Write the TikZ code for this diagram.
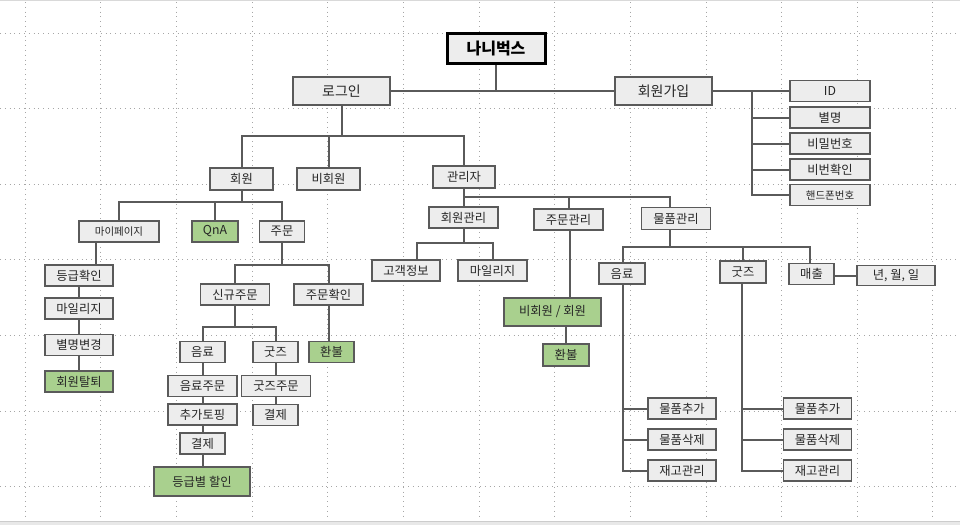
\documentclass[tikz,border=0pt]{standalone}
\usepackage{fontspec}
\usetikzlibrary{backgrounds}
\setmainfont{Noto Sans CJK KR}
\definecolor{boxfill}{HTML}{EDEDED}
\definecolor{boxline}{HTML}{5A5A5A}
\definecolor{greenfill}{HTML}{A9D08E}
\definecolor{gridc}{HTML}{A6A6A6}
\tikzset{
  gbox/.style={draw=boxline, line width=1.5pt, fill=boxfill, inner sep=0pt, font=\fontsize{12.3}{14}\selectfont, text=black!85},
  grbox/.style={gbox, fill=greenfill},
  wire/.style={draw=boxline, line width=2pt},
  gridline/.style={draw=gridc, line width=0.7pt, dash pattern=on 0.8pt off 4pt},
}
\newcommand{\bx}[5]{\node[#1, minimum width=#4pt, minimum height=#5pt] (#2) at (#3) }
\begin{document}
\begin{tikzpicture}[x=1pt,y=-1pt]
\useasboundingbox (0,0) rectangle (960,525);

% nodes
\node[draw=black, line width=3pt, fill=boxfill, minimum width=98pt, minimum height=30pt, font=\fontsize{16}{18}\selectfont\bfseries] (root) at (496,48) {나니벅스};
\bx{gbox}{login}{341.5,91}{97}{28}[font=\fontsize{14}{16}\selectfont] {로그인};
\bx{gbox}{join}{663.5,91}{97}{28}[font=\fontsize{14}{16}\selectfont] {회원가입};
\bx{gbox}{id}{830,91}{80}{21} {ID};
\bx{gbox}{alias}{830,117.5}{80}{21} {별명};
\bx{gbox}{pw}{830,143.5}{80}{21} {비밀번호};
\bx{gbox}{pwc}{830,169.5}{80}{21} {비번확인};
\bx{gbox}{phone}{830,195}{80}{21}[font=\fontsize{10.5}{12}\selectfont] {핸드폰번호};

\bx{gbox}{member}{241.5,179}{63}{22} {회원};
\bx{gbox}{guest}{328.5,179}{63}{22} {비회원};
\bx{gbox}{admin}{464,177}{62}{22} {관리자};

\bx{gbox}{mypage}{119,231.5}{80}{21}[font=\fontsize{10.5}{12}\selectfont] {마이페이지};
\bx{grbox}{qna}{215,231.5}{46}{21} {QnA};
\bx{gbox}{order}{282,231.5}{45}{21} {주문};

\bx{gbox}{grade}{79,275.5}{68}{21} {등급확인};
\bx{gbox}{mile}{79,308.5}{68}{21} {마일리지};
\bx{gbox}{nick}{79,345}{68}{21} {별명변경};
\bx{grbox}{quit}{79,381.5}{68}{21} {회원탈퇴};

\bx{gbox}{neworder}{235,294.5}{69}{21} {신규주문};
\bx{gbox}{check}{328.5,294.5}{69}{21} {주문확인};
\bx{grbox}{refundA}{331.5,352}{45}{21} {환불};
\bx{gbox}{drink}{202.5,352}{45}{21} {음료};
\bx{gbox}{goods}{275.5,352}{45}{21} {굿즈};
\bx{gbox}{dorder}{202.5,386}{69}{21} {음료주문};
\bx{gbox}{topping}{202.5,414.5}{69}{21} {추가토핑};
\bx{gbox}{payA}{202.5,443.5}{45}{21} {결제};
\bx{grbox}{disc}{202,481.5}{96}{29} {등급별 할인};
\bx{gbox}{gorder}{276,386}{69}{21} {굿즈주문};
\bx{gbox}{payB}{275.5,415}{45}{21} {결제};

\bx{gbox}{mm}{463.5,217.5}{69}{21} {회원관리};
\bx{gbox}{om}{568.5,219.5}{69}{21} {주문관리};
\bx{gbox}{pm}{676,218.5}{69}{22} {물품관리};
\bx{gbox}{cust}{406,270.5}{68}{21} {고객정보};
\bx{gbox}{mileB}{492.5,270.5}{69}{21} {마일리지};
\bx{grbox}{gm}{552.5,312}{97}{28} {비회원 / 회원};
\bx{grbox}{refundB}{566,355}{46}{22} {환불};
\bx{gbox}{pdrink}{622,273.5}{46}{21} {음료};
\bx{gbox}{pgoods}{743,272}{46}{22} {굿즈};
\bx{gbox}{sales}{811.5,274}{45}{21} {매출};
\bx{gbox}{ymd}{896,275.5}{78}{20} {년, 월, 일};
\bx{gbox}{addA}{682,408.5}{68}{21} {물품추가};
\bx{gbox}{delA}{682,439.5}{68}{21} {물품삭제};
\bx{gbox}{stkA}{682,470.5}{68}{21} {재고관리};
\bx{gbox}{addB}{817.5,408.5}{68}{21} {물품추가};
\bx{gbox}{delB}{817.5,439.5}{68}{21} {물품삭제};
\bx{gbox}{stkB}{817.5,470.5}{68}{21} {재고관리};

\begin{scope}[on background layer]
\fill[white] (0,0) rectangle (960,525);
% grid
\foreach \k in {0,...,12} {\draw[gridline] ({25+75.65*\k},2) -- ({25+75.65*\k},520);}
\foreach \k in {0,...,6} {\draw[gridline] (0,{33+75.6*\k}) -- (960,{33+75.6*\k});}
\draw[gray!30, line width=1pt] (0,0.5) -- (960,0.5);
\fill[gray!18] (0,521) rectangle (960,525);
\draw[gray!40, line width=0.6pt] (0,521) -- (960,521);

% connectors
\draw[wire] (root.south) -- (root.south |- login.east);
\draw[wire] (login.east) -- (join.west);
\draw[wire] (join.east) -- (id.west);
\draw[wire] (752,0 |- join.east) |- (phone.west);
\draw[wire] (752,0 |- alias.west) -- (alias.west);
\draw[wire] (752,0 |- pw.west) -- (pw.west);
\draw[wire] (752,0 |- pwc.west) -- (pwc.west);

\coordinate (lb) at (341.5,136);
\draw[wire] (login.south) -- (lb);
\draw[wire] (member.north) |- (lb) -| (admin.north);
\draw[wire] (guest.north) -- (guest.north |- lb);

\coordinate (mb) at (241.5,202);
\draw[wire] (member.south) -- (mb);
\draw[wire] (mypage.north) |- (mb) -| (order.north);
\draw[wire] (qna.north) -- (qna.north |- mb);
\draw[wire] (96,0 |- mypage.south) -- (96,0 |- grade.north);
\draw[wire] (grade.south) -- (mile.north);
\draw[wire] (mile.south) -- (nick.north);
\draw[wire] (nick.south) -- (quit.north);

\coordinate (ob) at (282,265);
\draw[wire] (order.south) -- (ob);
\draw[wire] (neworder.north) |- (ob) -| (check.north);
\draw[wire] (329,0 |- check.south) -- (329,0 |- refundA.north);
\coordinate (nb) at (235,327);
\draw[wire] (neworder.south) -- (nb);
\draw[wire] (drink.north) |- (nb) -| (goods.north);
\draw[wire] (drink.south) -- (dorder.north);
\draw[wire] (dorder.south) -- (topping.north);
\draw[wire] (topping.south) -- (payA.north);
\draw[wire] (payA.south) -- (payA.south |- disc.north);
\draw[wire] (goods.south) -- (goods.south |- gorder.north);
\draw[wire] (gorder.south -| payB.north) -- (payB.north);

\coordinate (ab) at (464,197);
\draw[wire] (admin.south) -- (admin.south |- mm.north);
\draw[wire] (ab) -| (670,0 |- pm.north);
\draw[wire] (om.north) -- (om.north |- ab);
\coordinate (mmb) at (463.5,243);
\draw[wire] (mm.south) -- (mmb);
\draw[wire] (417,0 |- cust.north) |- (mmb) -| (mileB.north);
\draw[wire] (570,0 |- om.south) -- (570,0 |- gm.north);
\draw[wire] (refundB.north) -- (refundB.north |- gm.south);

\coordinate (pb) at (670,247);
\draw[wire] (670,0 |- pm.south) -- (pb);
\draw[wire] (623,0 |- pdrink.north) |- (pb) -| (810,0 |- sales.north);
\draw[wire] (pgoods.north) -- (pgoods.north |- pb);
\draw[wire] (ymd.west -| sales.east) -- (ymd.west);

\draw[wire] (623,0 |- pdrink.south) |- (stkA.west);
\draw[wire] (623,0 |- addA.west) -- (addA.west);
\draw[wire] (623,0 |- delA.west) -- (delA.west);
\draw[wire] (742,0 |- pgoods.south) |- (stkB.west);
\draw[wire] (742,0 |- addB.west) -- (addB.west);
\draw[wire] (742,0 |- delB.west) -- (delB.west);
\end{scope}
\end{tikzpicture}
\end{document}
